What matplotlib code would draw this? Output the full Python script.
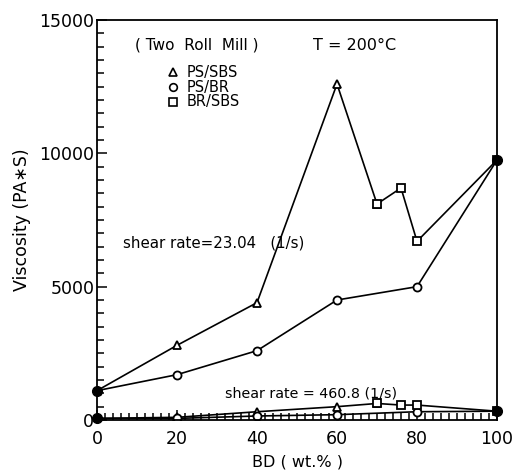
import matplotlib
matplotlib.use("Agg")
import matplotlib.pyplot as plt
from matplotlib.ticker import MultipleLocator

# BD content (wt.%) and viscosity (Pa*s) for each blend system
# shear rate = 23.04 1/s
bd_ps_sbs = [0, 20, 40, 60, 70]
visc_ps_sbs_low = [1100, 2800, 4400, 12600, 8100]
bd_ps_br = [0, 20, 40, 60, 80, 100]
visc_ps_br_low = [1100, 1700, 2600, 4500, 5000, 9750]
bd_br_sbs = [70, 76, 80, 100]
visc_br_sbs_low = [8100, 8700, 6700, 9750]

# shear rate = 460.8 1/s
visc_ps_sbs_high = [60, 100, 310, 500, 620]
visc_ps_br_high = [60, 60, 150, 200, 310, 330]
visc_br_sbs_high = [620, 560, 560, 330]

x_ticks = [0, 20, 40, 60, 80, 100]
y_ticks = [0, 5000, 10000, 15000]

plt.rcParams["font.family"] = ["DejaVu Sans"]

fig = plt.figure(figsize=(5.12, 4.70), dpi=100)
ax = fig.add_axes([97 / 512, 50 / 470, 400 / 512, 400 / 470])

mk = dict(color="black", lw=1.2, markersize=5.8, markerfacecolor="white",
          markeredgecolor="black", markeredgewidth=1.3)

for v_sbs, v_br, v_brsbs in [(visc_ps_sbs_low, visc_ps_br_low, visc_br_sbs_low),
                             (visc_ps_sbs_high, visc_ps_br_high, visc_br_sbs_high)]:
    ax.plot(bd_ps_sbs, v_sbs, marker="^", **mk)
    ax.plot(bd_ps_br, v_br, marker="o", **mk)
    ax.plot(bd_br_sbs, v_brsbs, marker="s", **mk)
    # pure components shared by two blend systems
    ax.plot([bd_ps_sbs[0]], [v_sbs[0]], marker="o", color="black", markersize=7, clip_on=False)
    ax.plot([bd_br_sbs[-1]], [v_brsbs[-1]], marker="o", color="black", markersize=7, clip_on=False)

ax.set_xlim(0, 100)
ax.set_ylim(0, 15000)
ax.set_xticks(x_ticks)
ax.set_yticks(y_ticks)
ax.xaxis.set_minor_locator(MultipleLocator(2))
ax.yaxis.set_minor_locator(MultipleLocator(500))
ax.tick_params(which="both", direction="in", top=False, right=False,
               width=1.1, labelsize=12.5, colors="black")
ax.tick_params(which="major", length=7)
ax.tick_params(axis="x", which="major", pad=7)
ax.tick_params(axis="y", which="major", pad=2)
ax.tick_params(which="minor", length=5)
for s in ax.spines.values():
    s.set_linewidth(1.3)

ax.set_xlabel("BD ( wt.% )", fontsize=11.5, labelpad=5)
ax.set_ylabel("Viscosity (PA\u2217S)", fontsize=12.5, labelpad=6)

ax.text(9.5, 14050, "( Two  Roll  Mill )", fontsize=11, va="center")
ax.text(54, 14050, "T = 200\u00b0C", fontsize=11.5, va="center")

leg_rows = [("^", "PS/SBS", 13050), ("o", "PS/BR", 12480), ("s", "BR/SBS", 11930)]
for m, lab, yv in leg_rows:
    ax.plot([19], [yv], marker=m, markersize=5.5, color="black",
            markerfacecolor="white", markeredgewidth=1.2, clip_on=False)
    ax.text(22.5, yv, lab, fontsize=10.5, va="center")

ax.text(6.5, 6650, "shear rate=23.04   (1/s)", fontsize=10.8, va="center")
ax.text(32, 1000, "shear rate = 460.8 (1/s)", fontsize=10.3, va="center")

fig.savefig("out.png", dpi=100)
